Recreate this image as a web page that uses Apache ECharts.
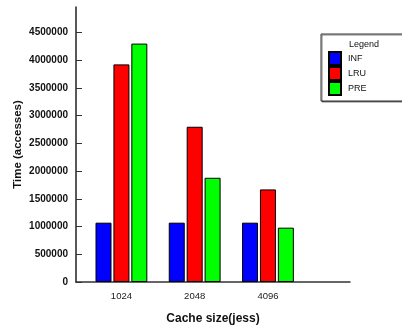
<!DOCTYPE html>
<html>
<head>
<meta charset="utf-8">
<script src="https://cdn.jsdelivr.net/npm/echarts@6/dist/echarts.min.js"></script>
<style>
  html, body { margin: 0; padding: 0; background: #fff; }
  #chart { width: 402px; height: 329px; }
</style>
</head>
<body>
<div id="chart"></div>
<script>
// Cache sizes on the x axis
const categories = ['1024', '2048', '4096'];
// Access times per replacement policy
const seriesNames = ['INF', 'LRU', 'PRE'];
const infValues = [1070000, 1070000, 1070000];
const lruValues = [3925000, 2800000, 1670000];
const preValues = [4300000, 1880000, 980000];
// Value-axis tick labels
const yTicks = [0, 500000, 1000000, 1500000, 2000000, 2500000, 3000000, 3500000, 4000000, 4500000];

const colors = ['#0000ff', '#ff0000', '#00ff00'];
const FONT = '"Liberation Sans", Arial, sans-serif';

function toPoints(values) {
  return values.map((v, i) => [i, v]);
}

const chart = echarts.init(document.getElementById('chart'), null, { renderer: 'canvas' });

const barStyle = (color) => ({
  type: 'bar',
  barWidth: 16,
  barGap: '12%',
  itemStyle: { color: color, borderColor: '#000', borderWidth: 1 }
});

chart.setOption({
  animation: false,
  backgroundColor: '#fff',
  grid: { left: 76, right: 52, top: 7, bottom: 47, containLabel: false, outerBoundsMode: 'none' },
  xAxis: {
    type: 'value',
    min: -0.62,
    max: 3.12,
    name: 'Cache size(jess)',
    nameLocation: 'middle',
    nameGap: 31,
    nameMoveOverlap: false,
    nameTextStyle: { fontFamily: FONT, fontSize: 12, fontWeight: 'bold', color: '#111' },
    axisLine: { show: true, onZero: false, lineStyle: { color: '#333', width: 1.5 } },
    axisTick: { show: false },
    splitLine: { show: false },
    axisLabel: {
      customValues: categories.map((c, i) => i),
      formatter: (v) => categories[Math.round(v)] ?? '',
      fontFamily: FONT,
      fontSize: 9.5,
      color: '#222',
      margin: 9
    }
  },
  yAxis: {
    type: 'value',
    min: 0,
    max: 4960000,
    name: 'Time (accesses)',
    nameLocation: 'middle',
    nameGap: 52,
    nameMoveOverlap: false,
    nameTextStyle: { fontFamily: FONT, fontSize: 11.5, fontWeight: 'bold', color: '#111' },
    axisLine: { show: true, onZero: false, lineStyle: { color: '#222', width: 1.5 } },
    axisTick: { show: true, inside: true, length: 6, customValues: yTicks, lineStyle: { color: '#333', width: 1 } },
    splitLine: { show: false },
    axisLabel: {
      customValues: yTicks,
      formatter: (v) => String(v),
      fontFamily: FONT,
      fontSize: 10,
      fontWeight: 'bold',
      color: '#111',
      margin: 8
    }
  },
  legend: {
    orient: 'vertical',
    left: 321,
    top: 34,
    padding: [17, 40, 5, 7],
    itemWidth: 12,
    itemHeight: 13,
    itemGap: 0,
    icon: 'rect',
    borderColor: '#333',
    borderWidth: 1,
    shadowColor: 'rgba(0,0,0,0.5)',
    shadowOffsetX: 1,
    shadowOffsetY: 1,
    backgroundColor: '#fff',
    textStyle: { fontFamily: FONT, fontSize: 9, lineHeight: 12, color: '#111', padding: [0, 0, 0, 2] },
    data: seriesNames
  },
  graphic: [{
    type: 'text',
    x: 364,
    y: 45,
    z: 100,
    style: { text: 'Legend', fontFamily: FONT, fontSize: 9, fill: '#111', align: 'center', verticalAlign: 'middle' }
  }],
  series: [
    Object.assign({ name: seriesNames[0], data: toPoints(infValues) }, barStyle(colors[0])),
    Object.assign({ name: seriesNames[1], data: toPoints(lruValues) }, barStyle(colors[1])),
    Object.assign({ name: seriesNames[2], data: toPoints(preValues) }, barStyle(colors[2]))
  ]
});
</script>
</body>
</html>
